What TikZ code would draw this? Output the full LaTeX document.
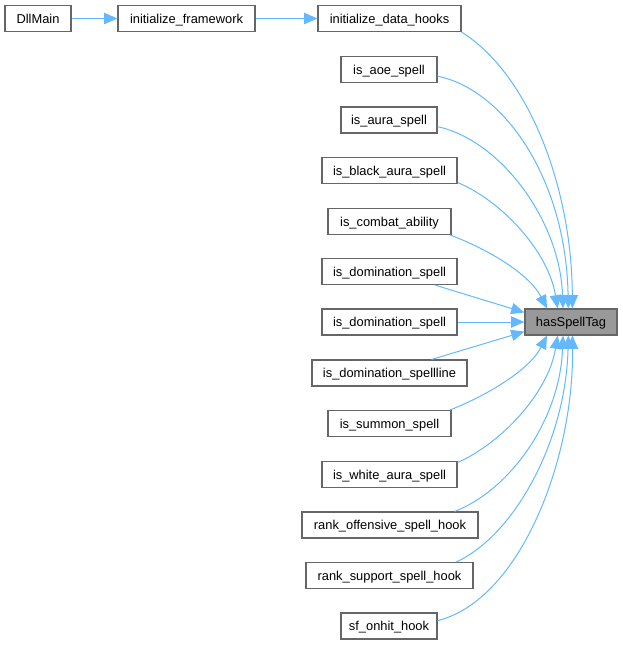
\documentclass[tikz,border=0pt]{standalone}
\usepackage{fontspec}
\setmainfont{Liberation Sans}
\usetikzlibrary{arrows.meta}
\definecolor{edgeblue}{HTML}{63B8FF}
\definecolor{boxline}{HTML}{666666}
\definecolor{hlfill}{HTML}{999999}
\tikzset{
  fn/.style={draw=boxline, fill=white, line width=0.8pt, minimum height=19.5pt, inner sep=0pt, text height=6.9pt, text depth=0pt, font=\fontsize{9.65pt}{11pt}\selectfont, text=black},
  cur/.style={fn, fill=hlfill},
  call/.style={draw=edgeblue, line width=0.75pt, -{Triangle[length=10pt,width=8.5pt]}}
}
\begin{document}
\begin{tikzpicture}[x=0.75pt,y=-0.75pt]
\useasboundingbox (0,0) rectangle (623,645);
\node[fn, minimum width=49.5pt] (dll) at (38,18.5) {DllMain};
\node[fn, minimum width=102.75pt] (fw) at (186.5,18.5) {initialize\_framework};
\node[fn, minimum width=107.25pt] (r0) at (389.5,18.5) {initialize\_data\_hooks};
\node[fn, minimum width=72pt] (r1) at (389,69.5) {is\_aoe\_spell};
\node[fn, minimum width=72pt] (r2) at (389,120) {is\_aura\_spell};
\node[fn, minimum width=101.25pt] (r3) at (389.5,170.5) {is\_black\_aura\_spell};
\node[fn, minimum width=92.25pt] (r4) at (389.5,221.5) {is\_combat\_ability};
\node[fn, minimum width=101.25pt] (r5) at (389.5,271.5) {is\_domination\_spell};
\node[fn, minimum width=101.25pt] (r6) at (389.5,322) {is\_domination\_spell};
\node[fn, minimum width=116.25pt] (r7) at (389.5,373) {is\_domination\_spellline};
\node[fn, minimum width=92.25pt] (r8) at (389.5,423.5) {is\_summon\_spell};
\node[fn, minimum width=101.25pt] (r9) at (389.5,474.5) {is\_white\_aura\_spell};
\node[fn, minimum width=132pt] (r10) at (390,525) {rank\_offensive\_spell\_hook};
\node[fn, minimum width=125.25pt] (r11) at (389.5,575.5) {rank\_support\_spell\_hook};
\node[fn, minimum width=72pt] (r12) at (389,626) {sf\_onhit\_hook};
\node[cur, minimum width=69pt] (h) at (571,322) {hasSpellTag};

\draw[call] (dll.east) -- (fw.west);
\draw[call] (fw.east) -- (r0.west);

\draw[call] (r0.south east) .. controls (530,75) and (572,190) .. ([xshift=1pt]h.north);
\draw[call] ([yshift=-5pt]r1.east) .. controls (505,90) and (566,180) .. ([xshift=-2pt]h.north);
\draw[call] ([yshift=-5pt]r2.east) .. controls (500,140) and (560,220) .. ([xshift=-6pt]h.north);
\draw[call] ([yshift=-9pt]r3.east) .. controls (500,200) and (548,250) .. ([xshift=-10pt]h.north);
\draw[call] ([xshift=-1pt]r4.south east) .. controls (490,250) and (530,275) .. ([xshift=-18pt]h.north);
\draw[call] ([xshift=-17pt]r5.south east) -- ([yshift=-3pt]h.north west);
\draw[call] (r6.east) -- (h.west);
\draw[call] ([xshift=-27pt]r7.north east) -- ([yshift=3pt]h.south west);
\draw[call] ([xshift=-1pt]r8.north east) .. controls (490,394) and (530,369) .. ([xshift=-18pt]h.south);
\draw[call] ([yshift=9pt]r9.east) .. controls (500,444) and (548,394) .. ([xshift=-10pt]h.south);
\draw[call] ([xshift=-18pt]r10.north east) .. controls (510,490) and (560,420) .. ([xshift=-6pt]h.south);
\draw[call] ([xshift=-13pt]r11.north east) .. controls (515,535) and (566,440) .. ([xshift=-2pt]h.south);
\draw[call] ([yshift=4pt]r12.east) .. controls (520,600) and (574,460) .. ([xshift=1pt]h.south);
\end{tikzpicture}
\end{document}
